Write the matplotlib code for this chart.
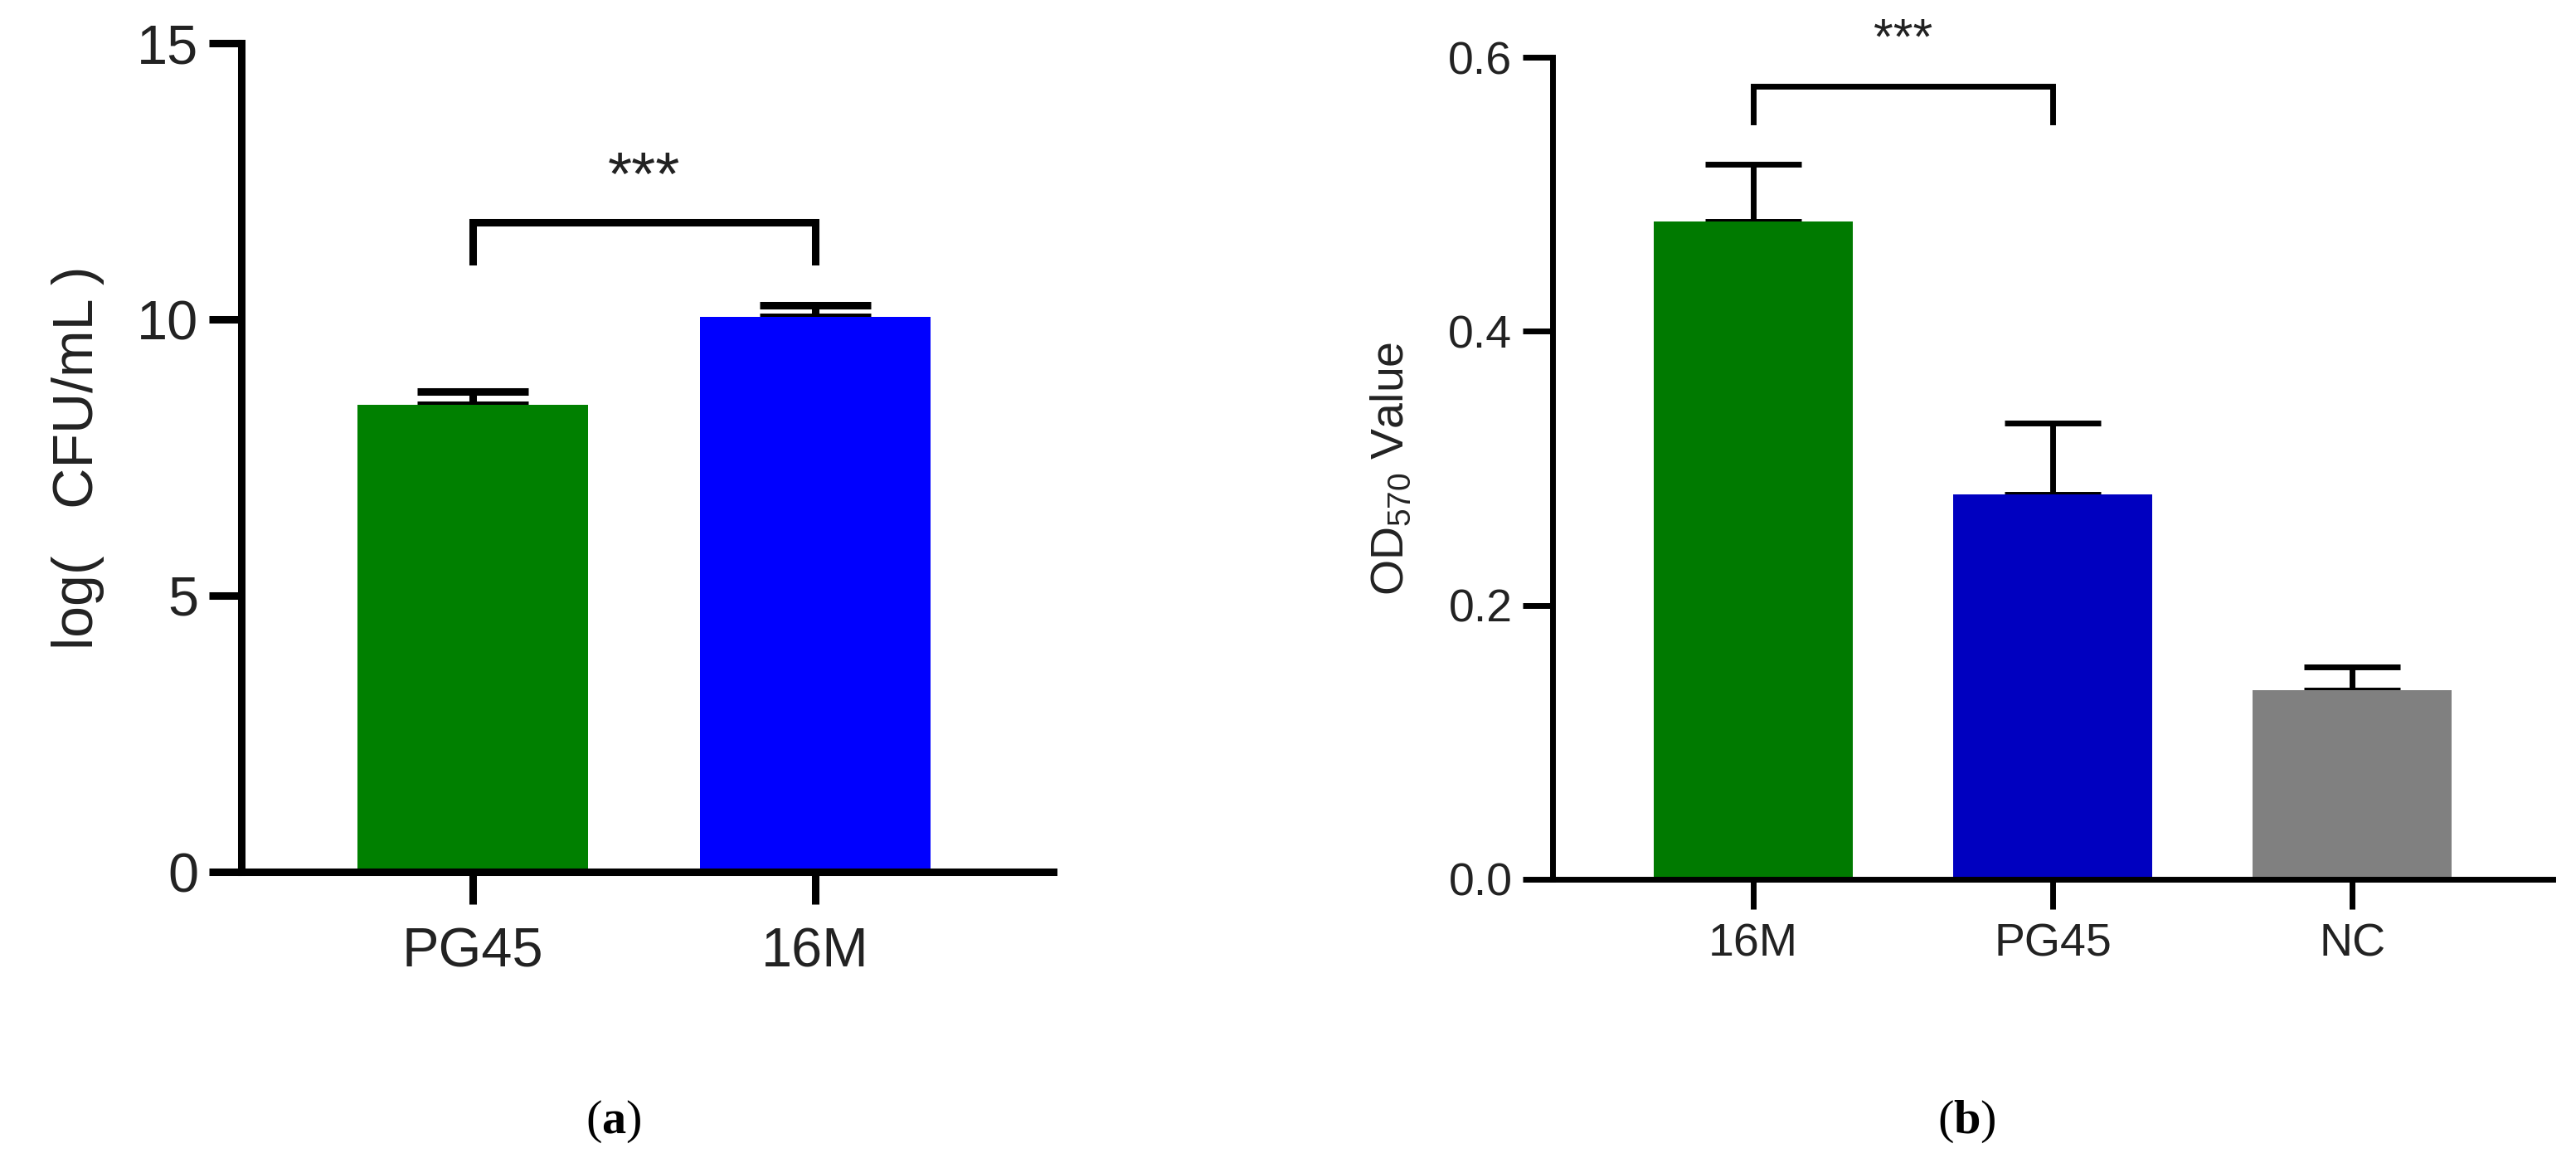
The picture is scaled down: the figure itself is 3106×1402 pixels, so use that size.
import matplotlib
matplotlib.use("Agg")
import matplotlib.pyplot as plt

# ---- data ----
cats_a = ["PG45", "16M"]
vals_a = [8.45, 10.05]
errs_a = [0.25, 0.2]
colors_a = ["#008000", "#0000FF"]
sig_a = "***"

cats_b = ["16M", "PG45", "NC"]
vals_b = [0.480, 0.281, 0.138]
errs_b = [0.042, 0.052, 0.017]
colors_b = ["#007A00", "#0000C0", "#808080"]
sig_b = "***"

yticks_a = [0, 5, 10, 15]
yticks_b = [0.0, 0.2, 0.4, 0.6]

plt.rcParams['mathtext.fontset'] = 'custom'
plt.rcParams['mathtext.rm'] = 'Liberation Serif'
plt.rcParams['mathtext.bf'] = 'Liberation Serif:bold'

W, H = 3106, 1402
fig = plt.figure(figsize=(W / 100, H / 100), dpi=100)
SANS = ['Liberation Sans', 'DejaVu Sans']
TXT = '#222222'

def style(ax, lw, tl, fs, pad):
    for s in ['top', 'right']:
        ax.spines[s].set_visible(False)
    for s in ['left', 'bottom']:
        ax.spines[s].set_linewidth(lw)
        ax.spines[s].set_color('black')
    ax.tick_params(axis='both', length=tl, width=lw, color='black',
                   labelsize=fs, labelcolor=TXT, pad=pad)
    for lab in ax.get_xticklabels() + ax.get_yticklabels():
        lab.set_family(SANS)

# ---- panel (a) ----
axa = fig.add_axes([291 / W, 1 - 1051 / H, (1270 - 291) / W, (1051 - 52) / H])
xa = list(range(len(cats_a)))
axa.bar(xa, vals_a, width=0.673, color=colors_a, zorder=2)
axa.errorbar(xa, vals_a, yerr=[[0] * len(errs_a), errs_a], fmt='none',
             ecolor='black', elinewidth=6.5, capsize=48, capthick=6.5, zorder=1)
axa.set_xlim(-0.676, 1.695)
axa.set_ylim(0, 15)
axa.set_yticks(yticks_a)
axa.set_xticks(xa)
axa.set_xticklabels(cats_a)
style(axa, 6.5, 28, 48, 9)
axa.tick_params(axis='x', pad=20)
axa.set_ylabel("log(   CFU/mL )", family=SANS, fontsize=49, color=TXT, labelpad=28)
# significance bracket
axa.plot([0, 0, 1, 1], [11.05, 11.75, 11.75, 11.05], color='black', lw=6.5,
         solid_joinstyle='miter', clip_on=False)
axa.text(0.5, 12.55, sig_a, ha='center', va='center', fontsize=54,
         family=SANS, color=TXT)

# ---- panel (b) ----
axb = fig.add_axes([1872 / W, 1 - 1060 / H, (3078 - 1872) / W, (1060 - 69) / H])
xb = list(range(len(cats_b)))
axb.bar(xb, vals_b, width=0.667, color=colors_b, zorder=2)
axb.errorbar(xb, vals_b, yerr=[[0] * len(errs_b), errs_b], fmt='none',
             ecolor='black', elinewidth=5, capsize=42, capthick=5, zorder=1)
axb.set_xlim(-0.67, 2.67)
axb.set_ylim(0, 0.6)
axb.set_yticks(yticks_b)
axb.set_yticklabels([f"{v:.1f}" for v in yticks_b])
axb.set_xticks(xb)
axb.set_xticklabels(cats_b)
style(axb, 5, 26, 40, 9)
axb.tick_params(axis='x', pad=12)
axb.set_ylabel(r"OD$_{\mathregular{570}}$ Value", family=SANS, fontsize=40,
               color=TXT, labelpad=30)
axb.plot([0, 0, 1, 1], [0.553, 0.579, 0.579, 0.553], color='black', lw=5,
         solid_joinstyle='miter', clip_on=False)
axb.text(0.5, 0.612, sig_b, ha='center', va='center', fontsize=44,
         family=SANS, color=TXT, clip_on=False)

# ---- panel labels ----
fig.text(740 / W, 1 - 1352 / H, r"($\mathbf{a}$)", ha='center', va='center',
         fontsize=42, family='Liberation Serif')
fig.text(2371 / W, 1 - 1352 / H, r"($\mathbf{b}$)", ha='center', va='center',
         fontsize=42, family='Liberation Serif')

fig.savefig("out.png", dpi=100, facecolor='white')
